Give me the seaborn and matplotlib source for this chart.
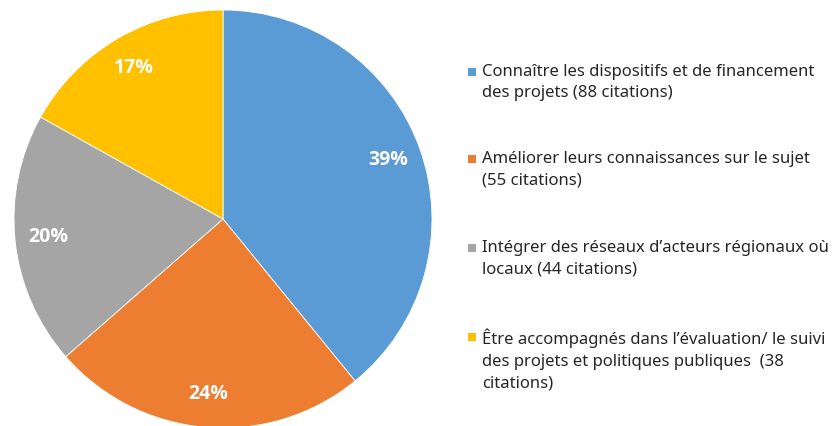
import seaborn as sns
import numpy as np
import matplotlib.pyplot as plt
from matplotlib.patches import Rectangle

# data
labels = ['Connaître les dispositifs et de financement\ndes projets (88 citations)',
          'Améliorer leurs connaissances sur le sujet\n(55 citations)',
          'Intégrer des réseaux d\u2019acteurs régionaux où\nlocaux (44 citations)',
          'Être accompagnés dans l\u2019évaluation/ le suivi\ndes projets et politiques publiques  (38\ncitations)']
citations = [88, 55, 44, 38]
colors = ['#5B9BD5', '#ED7D31', '#A5A5A5', '#FFC000']

sns.set_theme(style='white')
plt.rcParams['font.family'] = ['Noto Sans', 'DejaVu Sans']

W, H = 834, 426
fig = plt.figure(figsize=(W / 100, H / 100), dpi=100)
# pie centred at (223, 219) px with radius 209 px
cx, cy, r = 223, 219, 209
ax = fig.add_axes([(cx - r) / W, (H - cy - r) / H, 2 * r / W, 2 * r / H])
wedges, texts, autotexts = ax.pie(citations, colors=colors, startangle=90, counterclock=False,
                                  autopct=lambda p: f'{p:.0f}%', pctdistance=0.84,
                                  wedgeprops=dict(edgecolor='white', linewidth=0.6),
                                  textprops=dict(color='white', fontsize=14, fontweight='bold',
                                                 family=['Open Sans', 'DejaVu Sans']))
ax.set_xlim(-1, 1)
ax.set_ylim(-1, 1)
ax.set_aspect('equal')
ax.axis('off')

# legend drawn by hand so the squares sit on the first line
item_y = [72, 159, 248, 337]
for lab, col, y in zip(labels, colors, item_y):
    fig.add_artist(Rectangle(((468) / W, (H - y - 4) / H), 8 / W, 8 / H,
                             transform=fig.transFigure, color=col, lw=0))
    fig.text(482 / W, (H - y + 8) / H, lab, ha='left', va='top', fontsize=12,
             color='#262626', linespacing=1.45)

fig.savefig('out.png', dpi=100)
